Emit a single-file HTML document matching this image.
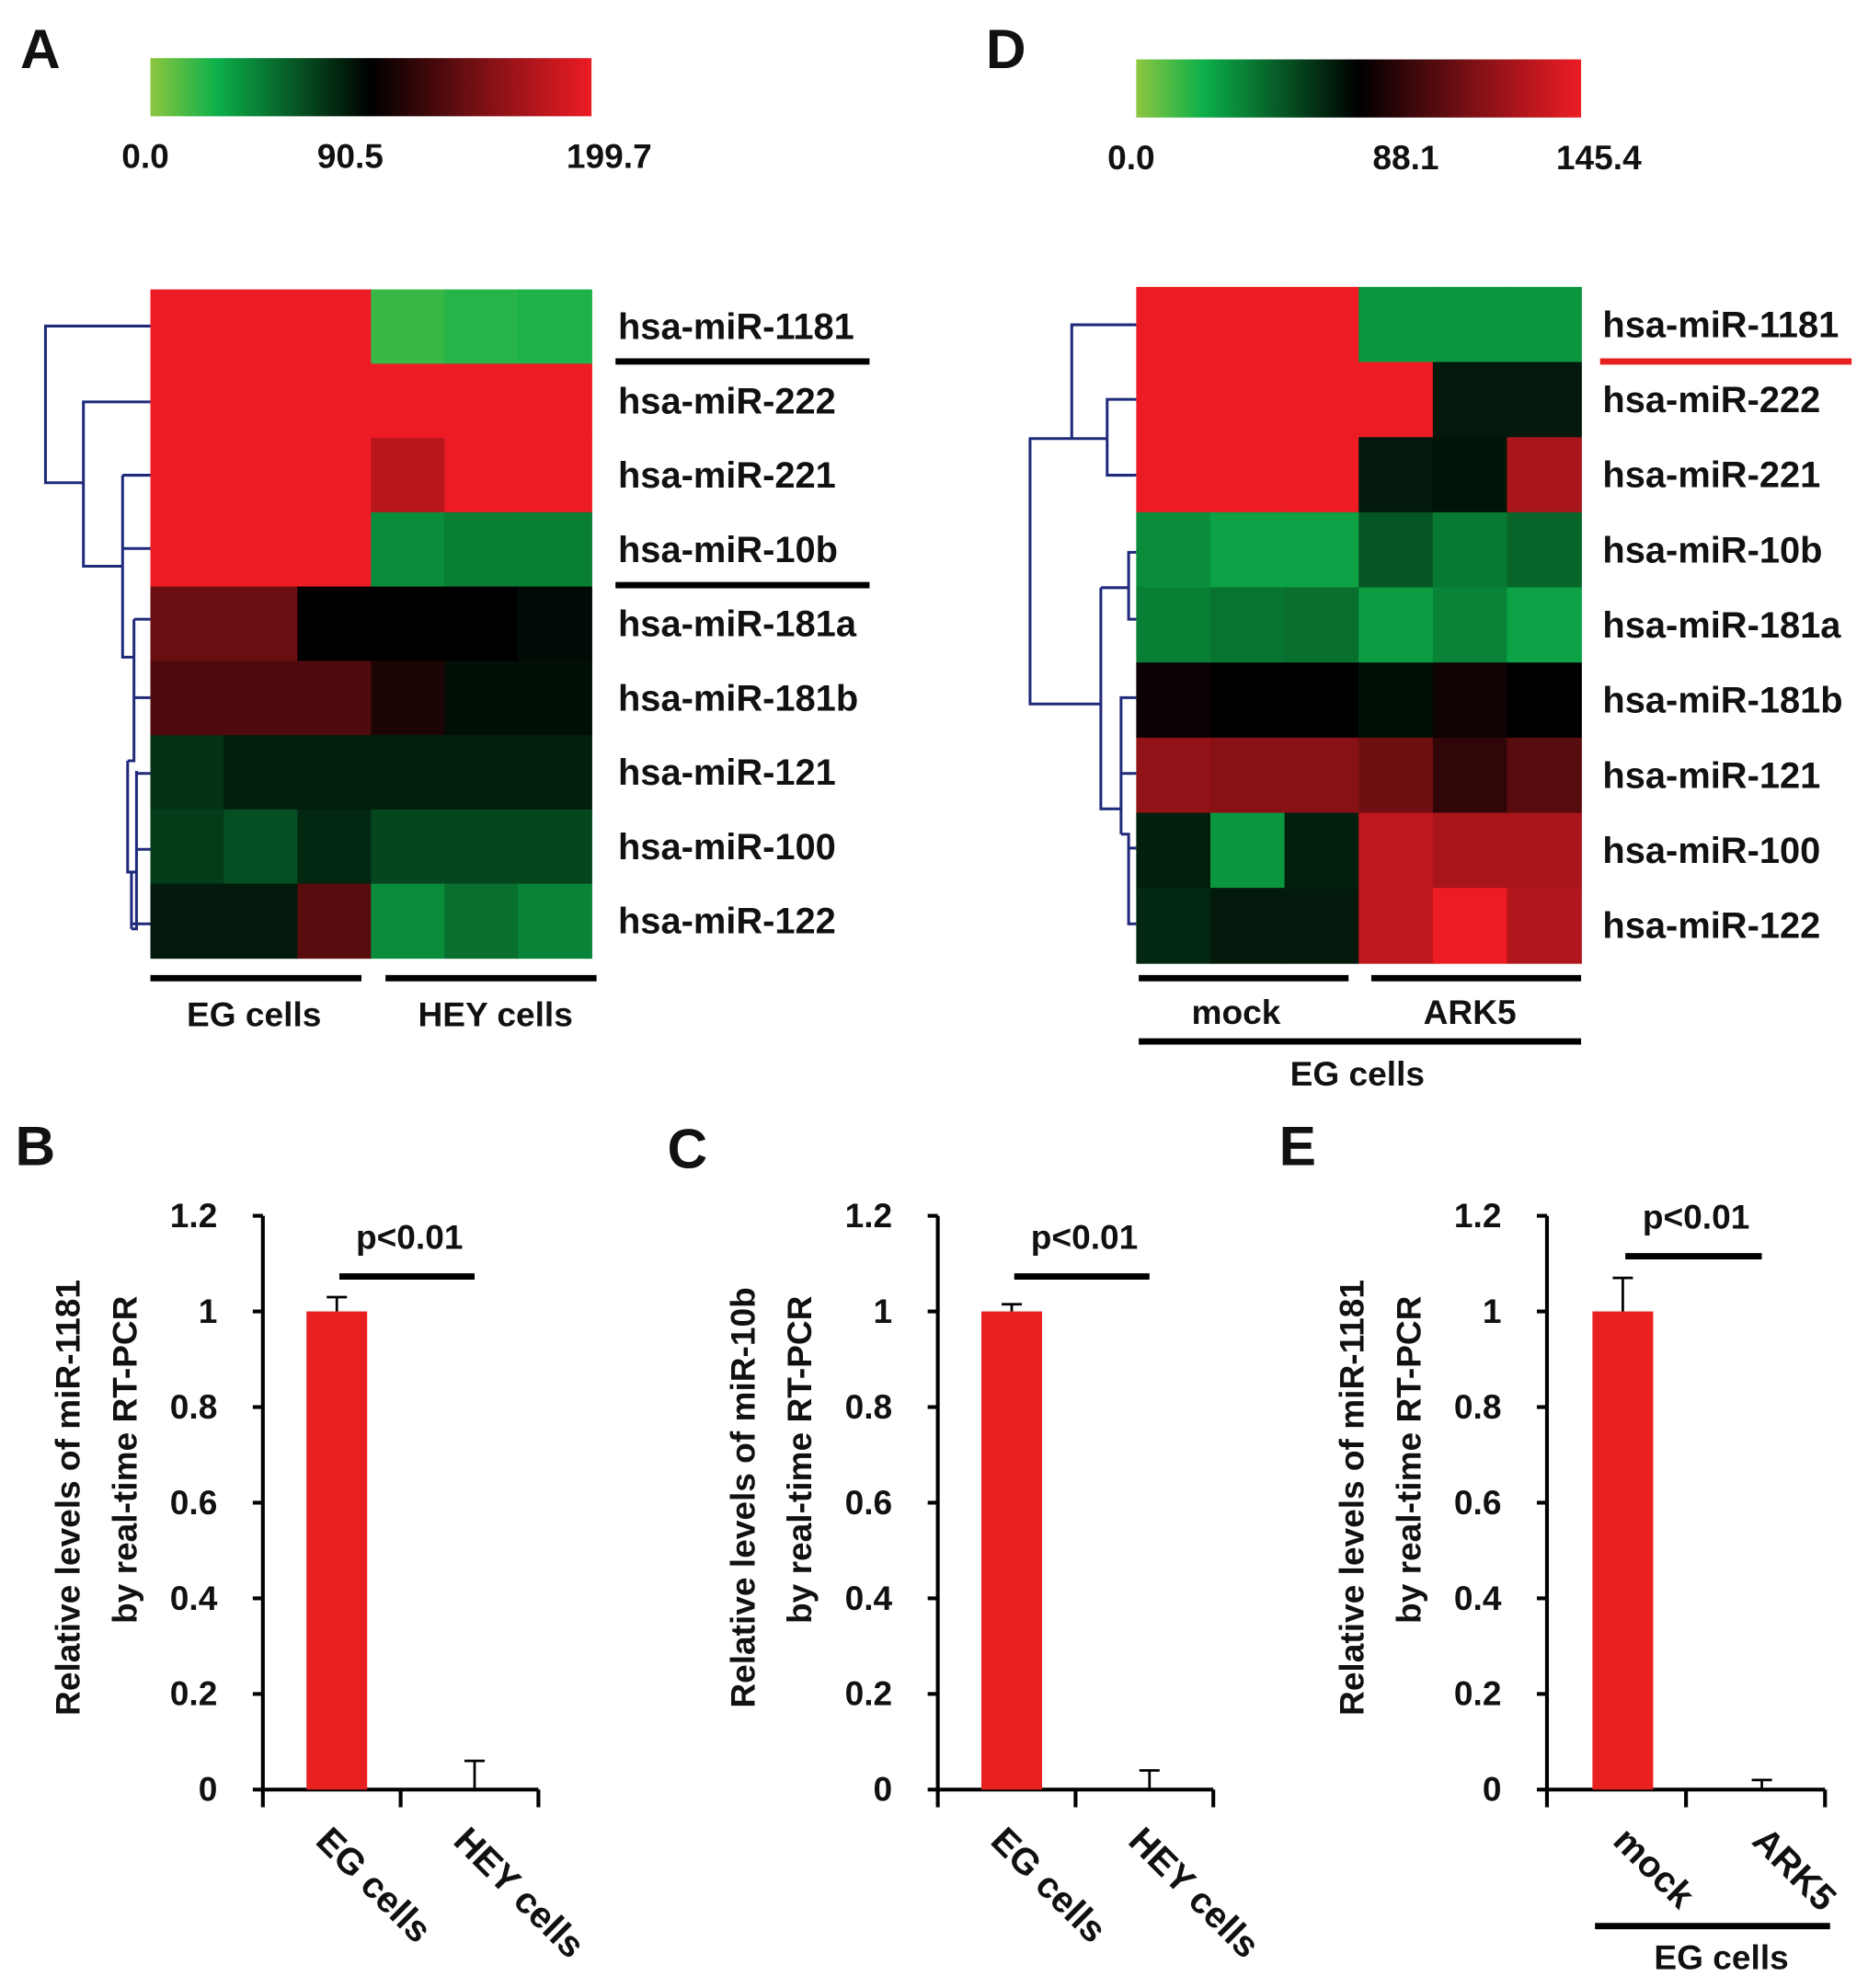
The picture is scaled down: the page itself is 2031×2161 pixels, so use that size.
<!DOCTYPE html>
<html><head><meta charset="utf-8"><style>
html,body{margin:0;padding:0;background:#fff}
svg{display:block}
text{font-family:"Liberation Sans",Arial,sans-serif;font-weight:bold;fill:#111}
</style></head><body>
<svg id="fig" width="2031" height="2161" viewBox="0 0 1478 1573" preserveAspectRatio="none" xmlns="http://www.w3.org/2000/svg">
<defs>
<linearGradient id="cbar" x1="0" x2="1" y1="0" y2="0">
<stop offset="0" stop-color="#8dc63f"/><stop offset="0.15" stop-color="#0cb04a"/><stop offset="0.5" stop-color="#000"/><stop offset="0.75" stop-color="#7a1014"/><stop offset="1" stop-color="#ed1c24"/>
</linearGradient>
</defs>
<g id="root"></g>
</svg>
<script>
// ---------- data ----------
const rowsA = ["hsa-miR-1181","hsa-miR-222","hsa-miR-221","hsa-miR-10b","hsa-miR-181a","hsa-miR-181b","hsa-miR-121","hsa-miR-100","hsa-miR-122"];
const rowsD = ["hsa-miR-1181","hsa-miR-222","hsa-miR-221","hsa-miR-10b","hsa-miR-181a","hsa-miR-181b","hsa-miR-121","hsa-miR-100","hsa-miR-122"];
const maxA = 199.7;
const maxD = 145.4;
const ticksA = ["0.0","90.5","199.7"];
const ticksD = ["0.0","88.1","145.4"];
const cellsA = [
 [1,1,1,.10,.12,.13],
 [1,1,1,1,1,1],
 [1,1,1,.88,1,1],
 [1,1,1,.22,.25,.25],
 [.72,.72,.5,.5,.5,.48],
 [.66,.66,.66,.56,.47,.47],
 [.4,.44,.44,.44,.44,.44],
 [.38,.34,.42,.36,.36,.36],
 [.45,.45,.68,.22,.28,.24]
];
const cellsD = [
 [1,1,1,.2,.2,.2],
 [1,1,1,1,.45,.45],
 [1,1,1,.45,.46,.85],
 [.22,.18,.18,.33,.26,.3],
 [.25,.27,.28,.19,.24,.18],
 [.52,.5,.5,.47,.53,.5],
 [.8,.78,.78,.73,.6,.68],
 [.44,.2,.44,.9,.85,.85],
 [.42,.45,.45,.9,1,.87]
];
const yTicks = [0,0.2,0.4,0.6,0.8,1,1.2];
const yTickLabels = ["0","0.2","0.4","0.6","0.8","1","1.2"];
const catsB = ["EG cells","HEY cells"];
const valsB = [1,0];
const errB = [0.03,0.06];
const catsC = ["EG cells","HEY cells"];
const valsC = [1,0];
const errC = [0.015,0.04];
const catsE = ["mock","ARK5"];
const valsE = [1,0];
const errE = [0.07,0.02];

// ---------- helpers ----------
const NS="http://www.w3.org/2000/svg";
const root=document.getElementById('root');
function mk(tag,attrs,parent,txt){const e=document.createElementNS(NS,tag);for(const k in attrs)e.setAttribute(k,attrs[k]);if(txt!==undefined)e.textContent=txt;(parent||root).appendChild(e);return e;}
const stops=[[0,[141,198,63]],[0.15,[12,176,74]],[0.5,[0,0,0]],[0.75,[122,16,20]],[1,[237,28,36]]];
function cmap(v){v=Math.max(0,Math.min(1,v));for(let i=1;i<stops.length;i++){if(v<=stops[i][0]){const a=stops[i-1],b=stops[i];const t=(v-a[0])/(b[0]-a[0]);const c=a[1].map((x,j)=>Math.round(x+(b[1][j]-x)*t));return `rgb(${c})`;}}return 'rgb(237,28,36)';}

function heatmap(cfg){
 const g=mk('g',{});
 
 
 const nr=cfg.cells.length,nc=cfg.cells[0].length;
 const cw=(cfg.x1-cfg.x0)/nc,rh=(cfg.y1-cfg.y0)/nr;
 cfg.cells.forEach((row,r)=>row.forEach((v,c)=>{
  const rect=mk('rect',{x:cfg.x0+c*cw,y:cfg.y0+r*rh,width:cw+0.6,height:rh+0.6,fill:cmap(v)},g);
  
  
 }));
 cfg.rows.forEach((lab,r)=>{
  const t=mk('text',{x:cfg.lx,y:cfg.y0+(r+0.5)*rh+10,'font-size':29},g,lab);
  
  
 });
 const cb=mk('rect',{x:cfg.x0,y:cfg.cby,width:cfg.x1-cfg.x0,height:46,fill:'url(#cbar)'},g);
 
 
 const tp=[0,parseFloat(cfg.ticks[1])/cfg.max,1];
 cfg.ticks.forEach((tk,i)=>{
  const t=mk('text',{x:cfg.x0+tp[i]*(cfg.x1-cfg.x0)+(i==2?14:(i==0?-4:0)),y:cfg.cby+87,'font-size':27,'text-anchor':'middle'},g,tk);
  
  
 });
 const d=mk('path',{d:cfg.dendro,fill:'none',stroke:'#1f2a7a','stroke-width':2.2},g);
 
 
 return g;
}

heatmap({name:'heatmap-a',cells:cellsA,rows:rowsA,x0:119,x1:468,y0:229,y1:758,lx:489,cby:46,ticks:ticksA,max:maxA,
 dendro:'M119 258H36V382H66 M119 318H66V448H97 M119 376H97V376 M97 376V520H106 M119 434H97 M106 490V602H101 M119 490H106 M119 552H106 M101 602V690H108 M108 610V690 M119 612H108 M108 655V735H104 M119 672H108 M119 731H104 M104 690V735'});
heatmap({name:'heatmap-d',cells:cellsD,rows:rowsD,x0:899,x1:1251,y0:227,y1:762,lx:1268,cby:47,ticks:ticksD,max:maxD,
 dendro:'M899 257H848V347H815V557H871 M899 316H876V376H899 M876 347H848 M871 465V640H887 M871 465H893V437H899 M893 465V490H899 M887 585V660 M899 552H887V612H899 M887 660H893V700 M893 671H899 M893 700V731H899'});

function line(x1,y1,x2,y2,w,color,name){const l=mk('line',{x1,y1,x2,y2,stroke:color||'#000','stroke-width':w||5});return l;}
function txt(x,y,s,size,name,anchor,extra){const t=mk('text',Object.assign({x,y,'font-size':size,'text-anchor':anchor||'start'},extra||{}),root,s);return t;}

line(487,286,688,286,5,'#000','highlight-underline-1181');
line(487,463,688,463,5,'#000','highlight-underline-10b');
line(1266,286,1465,286,5,'#e8201f','highlight-underline-1181-d');
line(119,774,286,774,5,'#000','group-bar-eg');
line(305,774,472,774,5,'#000','group-bar-hey');
txt(201,812,'EG cells',27,'group-label-eg','middle');
txt(392,812,'HEY cells',27,'group-label-hey','middle');
line(901,774,1067,774,5,'#000','group-bar-mock');
line(1085,774,1251,774,5,'#000','group-bar-ark5');
txt(978,810,'mock',27,'group-label-mock','middle');
txt(1163,810,'ARK5',27,'group-label-ark5','middle');
line(901,824,1251,824,5,'#000','group-bar-eg-d');
txt(1074,859,'EG cells',27,'group-label-eg-d','middle');

txt(16,54,'A',44,'panel-label-a');
txt(780,54,'D',44,'panel-label-d');
txt(12,922,'B',44,'panel-label-b');
txt(528,924,'C',44,'panel-label-c');
txt(1012,922,'E',44,'panel-label-e');

function barChart(cfg){
 const g=mk('g',{});
 
 
 const y0=1416,ytop=962;
 const ys=v=>y0-v*(y0-ytop)/1.2;
 const ax=cfg.ax, w=cfg.w;
 const cat=w/cfg.cats.length;
 const a1=mk('line',{x1:ax,y1:ytop,x2:ax,y2:y0,stroke:'#000','stroke-width':3},g);
 
 const a2=mk('line',{x1:ax,y1:y0,x2:ax+w,y2:y0,stroke:'#000','stroke-width':3},g);
 
 yTicks.forEach((v,i)=>{
  const t=mk('line',{x1:ax-8,y1:ys(v),x2:ax,y2:ys(v),stroke:'#000','stroke-width':3},g);
  
  const l=mk('text',{x:ax-36,y:ys(v)+9,'font-size':27,'text-anchor':'end'},g,yTickLabels[i]);
  
 });
 for(let i=0;i<=cfg.cats.length;i++){
  const t=mk('line',{x1:ax+i*cat,y1:y0,x2:ax+i*cat,y2:y0+14,stroke:'#000','stroke-width':3},g);
  
 }
 cfg.cats.forEach((c,i)=>{
  const cx=ax+(i+0.5)*cat+cfg.shift;
  const b=mk('rect',{x:cx-24,y:ys(cfg.vals[i]),width:48,height:y0-ys(cfg.vals[i]),fill:'#e8201f'},g);
  
  const top=ys(cfg.vals[i]+cfg.errs[i]);
  const e=mk('path',{d:`M${cx} ${ys(cfg.vals[i])}V${top}M${cx-8} ${top}H${cx+8}`,stroke:'#000','stroke-width':2,fill:'none'},g);
  
  const lx=ax+(i+0.5)*cat-14+cfg.lshift, ly=y0+42;
  const l=mk('text',{x:lx,y:ly,'font-size':29,transform:`rotate(45 ${lx} ${ly})`},g,c);
  
 });
 const c0=ax+0.5*cat+cfg.shift, c1=ax+1.5*cat+cfg.shift;
 const p=mk('line',{x1:c0+2,y1:cfg.py,x2:c1,y2:cfg.py,stroke:'#000','stroke-width':5},g);
 
 const pt=mk('text',{x:(c0+c1)/2+3,y:cfg.py-22,'font-size':27,'text-anchor':'middle'},g,'p<0.01');
 
 const cy=1185;
 const t1=mk('text',{x:ax-145,y:cy,'font-size':27,'text-anchor':'middle',transform:`rotate(-90 ${ax-145} ${cy})`},g,cfg.t1);
 
 const t2=mk('text',{x:ax-100,y:cy-30,'font-size':27,'text-anchor':'middle',transform:`rotate(-90 ${ax-100} ${cy-30})`},g,'by real-time RT-PCR');
 
}
barChart({name:'bar-chart-b',ax:208,w:218,cats:catsB,vals:valsB,errs:errB,shift:4,lshift:0,py:1010,t1:'Relative levels of miR-1181'});
barChart({name:'bar-chart-c',ax:742,w:218,cats:catsC,vals:valsC,errs:errC,shift:4,lshift:0,py:1010,t1:'Relative levels of  miR-10b'});
barChart({name:'bar-chart-e',ax:1224,w:220,cats:catsE,vals:valsE,errs:errE,shift:5,lshift:10,py:994,t1:'Relative levels of  miR-1181'});
line(1262,1524,1448,1524,5,'#000','group-bar-eg-e');
txt(1362,1558,'EG cells',27,'group-label-eg-e','middle');
</script>
</body></html>
